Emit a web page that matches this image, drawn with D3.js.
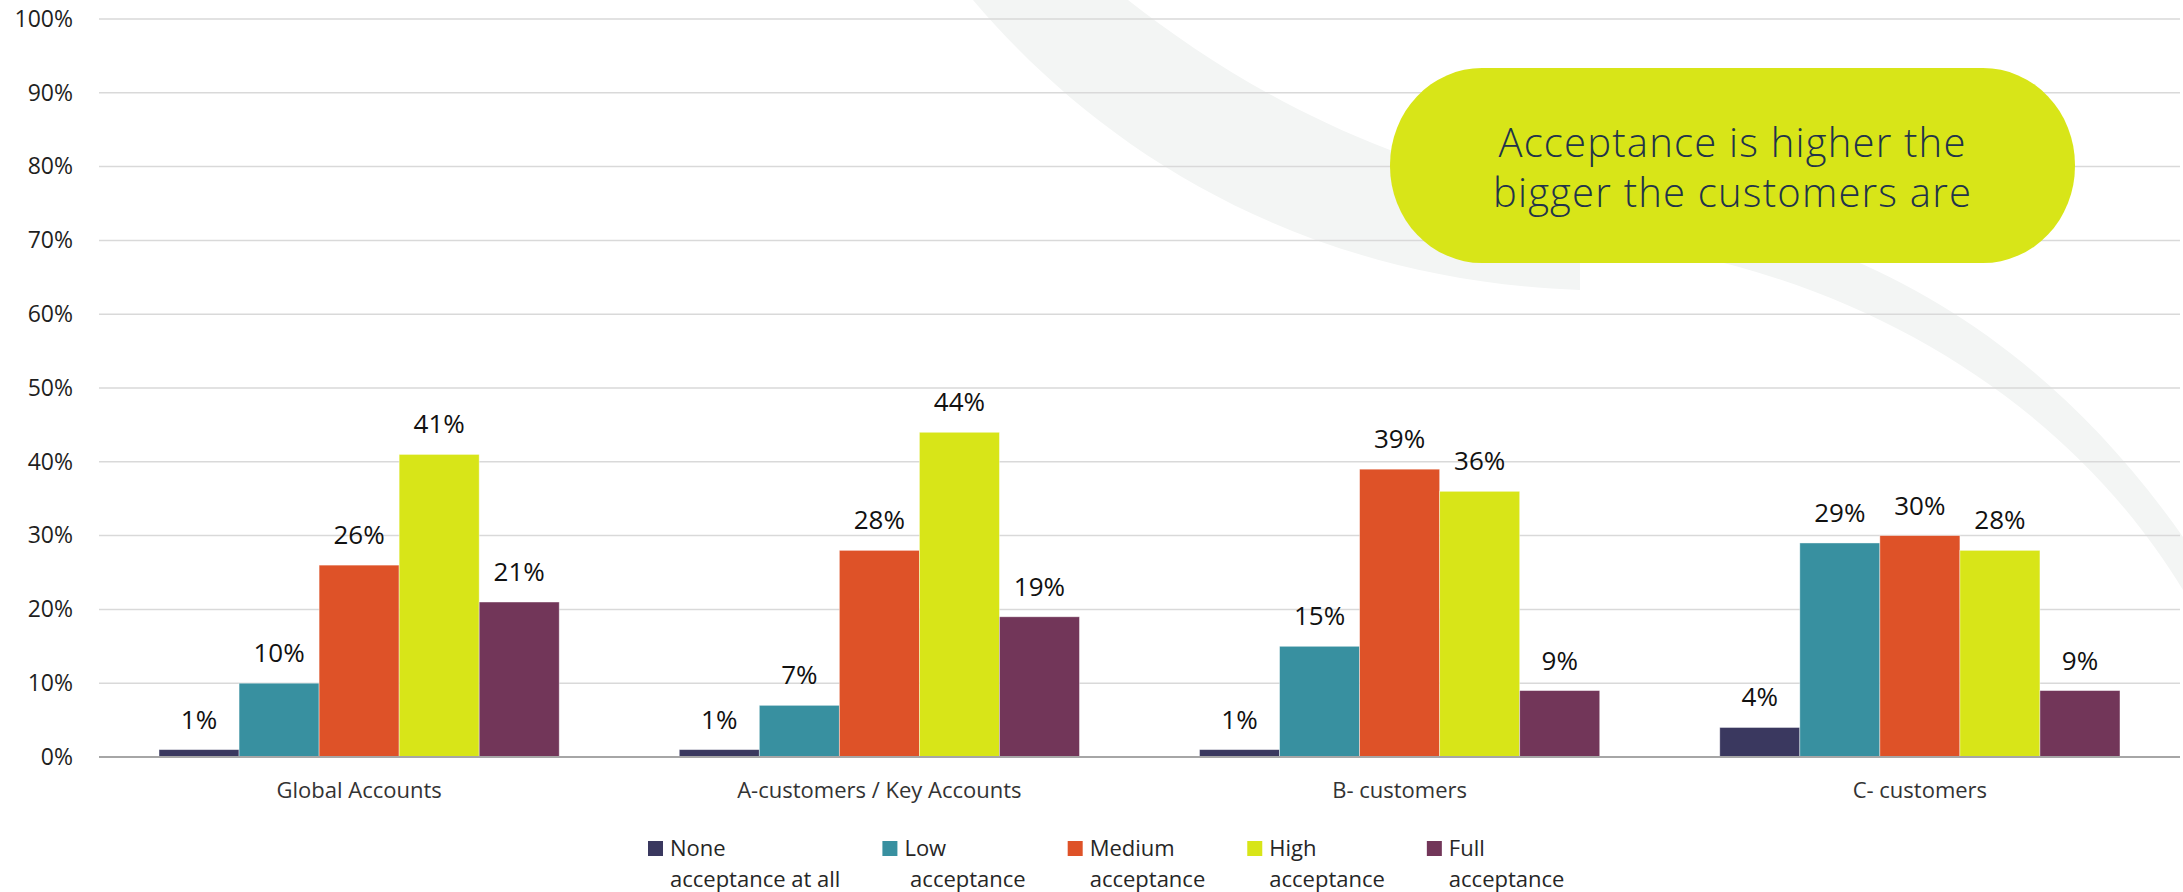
<!DOCTYPE html>
<html>
<head>
<meta charset="utf-8">
<script src="https://cdn.jsdelivr.net/npm/d3@7"></script>
<style>
  html, body { margin: 0; padding: 0; background: #ffffff; }
  svg { display: block; }
  text { font-family: "Open Sans", "Noto Sans", sans-serif; }
</style>
</head>
<body>
<svg id="chart" width="2183" height="892"></svg>
<script>
// Customer segments (x-axis groups)
const categories = ["Global Accounts", "A-customers / Key Accounts", "B- customers", "C- customers"];

// Acceptance levels (series), legend text split over two lines
const seriesKeys = ["none", "low", "medium", "high", "full"];
const seriesLabels = [
  ["None", "acceptance at all"],
  ["Low", " acceptance"],
  ["Medium", "acceptance"],
  ["High", "acceptance"],
  ["Full", "acceptance"]
];
const seriesColors = ["#3a385f", "#3890a0", "#de5228", "#d8e518", "#723659"];

// Share of respondents per segment, one array per acceptance level (in %)
const noneValues   = [1, 1, 1, 4];
const lowValues    = [10, 7, 15, 29];
const mediumValues = [26, 28, 39, 30];
const highValues   = [41, 44, 36, 28];
const fullValues   = [21, 19, 9, 9];

// Y-axis ticks (%)
const yTicks = [0, 10, 20, 30, 40, 50, 60, 70, 80, 90, 100];

// Callout text
const calloutLines = ["Acceptance is higher the", "bigger the customers are"];

const seriesValues = [noneValues, lowValues, mediumValues, highValues, fullValues];
const rows = categories.map((c, i) => ({
  category: c,
  values: seriesKeys.map((k, j) => ({ key: k, idx: j, value: seriesValues[j][i] }))
}));

const svg = d3.select("#chart");

const plot = { left: 99, right: 2180, top: 19, bottom: 757 };

const x0 = d3.scaleBand().domain(categories).range([plot.left, plot.right]).paddingInner(0).paddingOuter(0);
const x1 = d3.scaleBand().domain(seriesKeys).range([0, x0.bandwidth()]).paddingInner(0).paddingOuter(0.75);
const y = d3.scaleLinear().domain([0, 100]).range([plot.bottom, plot.top]);
const color = d3.scaleOrdinal().domain(seriesKeys).range(seriesColors);

// Decorative background swooshes
const deco = svg.append("g").attr("class", "swoosh").attr("fill", "#f3f5f4");
deco.append("path")
  .attr("d", "M973,0 C1100,150 1300,280 1580,290 L1580,200 C1380,170 1230,80 1128,0 Z");
deco.append("path")
  .attr("d", "M1690,255 C1900,300 2080,420 2183,590 L2183,537 C2080,390 1950,290 1800,240 Z");

// Horizontal gridlines
svg.append("g").attr("class", "grid")
  .selectAll("line")
  .data(yTicks.filter(t => t > 0))
  .join("line")
  .attr("x1", plot.left).attr("x2", plot.right)
  .attr("y1", d => y(d)).attr("y2", d => y(d))
  .attr("stroke", "#d9d9d9").attr("stroke-width", 1.5);

// Y axis labels
const yAxis = svg.append("g")
  .attr("transform", `translate(${plot.left - 26},0)`)
  .call(d3.axisLeft(y).tickValues(yTicks).tickSize(0).tickPadding(0).tickFormat(d => d + "%"));
yAxis.select(".domain").remove();
yAxis.selectAll("text")
  .attr("font-family", "'Open Sans', sans-serif")
  .attr("font-size", 23)
  .attr("fill", "#1f1f1f");

// Callout bubble (drawn above gridlines)
const bubble = { x: 1390, y: 68, w: 685, h: 195 };
svg.append("rect")
  .attr("x", bubble.x).attr("y", bubble.y)
  .attr("width", bubble.w).attr("height", bubble.h)
  .attr("rx", 92).attr("ry", 97)
  .attr("fill", "#d8e518");
svg.append("g").selectAll("text")
  .data(calloutLines)
  .join("text")
  .attr("x", bubble.x + bubble.w / 2)
  .attr("y", (d, i) => 157 + i * 50)
  .attr("text-anchor", "middle")
  .attr("font-family", "Inter, Lato, sans-serif")
  .attr("font-size", 40)
  .attr("font-weight", 300)
  .attr("letter-spacing", 1.2)
  .attr("fill", "#22334a")
  .text(d => d);

// Bars
const groups = svg.append("g").attr("class", "bars")
  .selectAll("g")
  .data(rows)
  .join("g")
  .attr("transform", d => `translate(${x0(d.category)},0)`);

groups.selectAll("rect")
  .data(d => d.values)
  .join("rect")
  .attr("x", d => x1(d.key))
  .attr("y", d => y(d.value))
  .attr("width", x1.bandwidth())
  .attr("height", d => y(0) - y(d.value))
  .attr("fill", d => color(d.key))
  .attr("stroke", "#ffffff").attr("stroke-opacity", 0.5).attr("stroke-width", 0.8);

// Value labels
groups.selectAll("text.value")
  .data(d => d.values)
  .join("text")
  .attr("class", "value")
  .attr("x", d => x1(d.key) + x1.bandwidth() / 2)
  .attr("y", d => y(d.value) - 21)
  .attr("text-anchor", "middle")
  .attr("font-size", 26)
  .attr("fill", "#111111")
  .text(d => d.value + "%");

// Baseline
svg.append("line")
  .attr("x1", plot.left).attr("x2", plot.right)
  .attr("y1", y(0)).attr("y2", y(0))
  .attr("stroke", "#a6a6a6").attr("stroke-width", 2);

// Category axis
const xAxis = svg.append("g")
  .attr("transform", `translate(0,${plot.bottom})`)
  .call(d3.axisBottom(x0).tickSize(0).tickPadding(0));
xAxis.select(".domain").remove();
xAxis.selectAll("text")
  .attr("y", 41).attr("dy", 0)
  .attr("font-family", "'Open Sans', sans-serif")
  .attr("font-size", 22)
  .attr("fill", "#333333");

// Legend: items laid out left to right from their measured text widths
const legend = svg.append("g").attr("class", "legend");
let lx = 648;
seriesKeys.forEach((k, i) => {
  const item = legend.append("g").attr("transform", `translate(${lx},0)`);
  item.append("rect")
    .attr("x", 0).attr("y", 841).attr("width", 15).attr("height", 15)
    .attr("fill", color(k));
  const lines = item.selectAll("text")
    .data(seriesLabels[i])
    .join("text")
    .attr("x", 22)
    .attr("y", (d, j) => 856 + j * 31)
    .attr("font-size", 22)
    .attr("fill", "#262626")
    .style("white-space", "pre")
    .text(d => d);
  let w = 0;
  lines.each(function () { w = Math.max(w, this.getComputedTextLength()); });
  lx += 22 + w + 42;
});
</script>
</body>
</html>
